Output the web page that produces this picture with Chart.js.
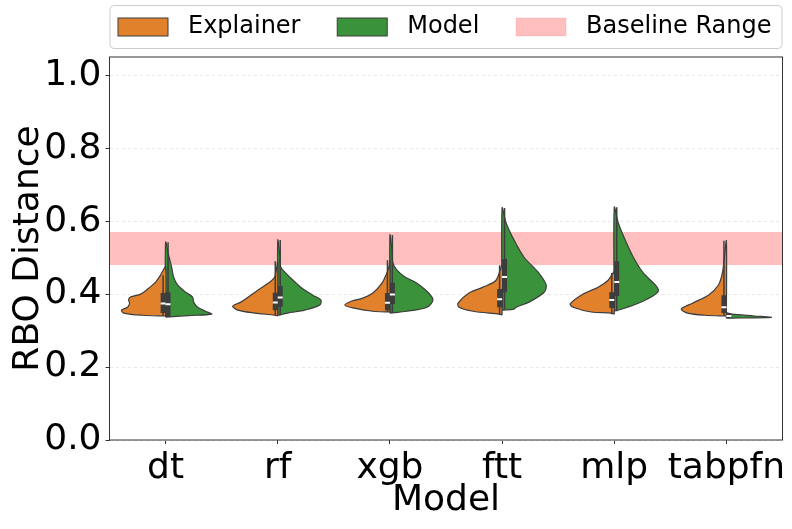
<!DOCTYPE html>
<html lang="en">
<head>
  <meta charset="UTF-8">
  <title>RBO Distance by Model</title>
  <script src="https://cdn.jsdelivr.net/npm/chart.js"></script>
  <style>
    body { margin: 0; background: #fff; }
    #wrap { width: 792px; height: 529px; }
  </style>
</head>
<body>
<div id="wrap"><canvas id="violin"></canvas></div>
<script>
  // categories and axis ticks
  const models = ['dt', 'rf', 'xgb', 'ftt', 'mlp', 'tabpfn'];
  const yTicks = [0.0, 0.2, 0.4, 0.6, 0.8, 1.0];
  const baselineRange = [0.48, 0.57];

  // half violin outlines: RBO level -> half width (category units)
  const explainerLevels = [
    [0.340, 0.342, 0.348, 0.356, 0.364, 0.375, 0.384, 0.392, 0.400, 0.416, 0.433, 0.452, 0.474],
    [0.340, 0.342, 0.348, 0.356, 0.367, 0.378, 0.397, 0.416, 0.433, 0.447, 0.471, 0.490],
    [0.351, 0.353, 0.362, 0.370, 0.381, 0.389, 0.403, 0.430, 0.458, 0.474, 0.493],
    [0.343, 0.345, 0.353, 0.364, 0.375, 0.403, 0.419, 0.438, 0.479],
    [0.345, 0.348, 0.351, 0.364, 0.373, 0.400, 0.419, 0.438, 0.460],
    [0.340, 0.342, 0.348, 0.359, 0.375, 0.397, 0.425, 0.458, 0.501, 0.546]
  ];
  const explainerWidths = [
    [0, 0.205, 0.375, 0.393, 0.339, 0.321, 0.330, 0.313, 0.223, 0.152, 0.089, 0.045, 0],
    [0, 0.027, 0.205, 0.357, 0.402, 0.330, 0.241, 0.152, 0.071, 0.027, 0.010, 0],
    [0, 0.152, 0.330, 0.402, 0.339, 0.241, 0.152, 0.071, 0.027, 0.009, 0],
    [0, 0.027, 0.259, 0.384, 0.393, 0.295, 0.170, 0.054, 0],
    [0, 0.027, 0.205, 0.366, 0.393, 0.277, 0.143, 0.054, 0],
    [0, 0.188, 0.348, 0.402, 0.304, 0.161, 0.071, 0.036, 0.018, 0]
  ];
  const modelLevels = [
    [0.337, 0.341, 0.345, 0.353, 0.364, 0.378, 0.392, 0.405, 0.425, 0.447, 0.474, 0.507, 0.542],
    [0.342, 0.348, 0.356, 0.370, 0.384, 0.397, 0.419, 0.444, 0.460, 0.474, 0.507, 0.548],
    [0.348, 0.353, 0.364, 0.384, 0.405, 0.430, 0.447, 0.466, 0.485, 0.521, 0.562],
    [0.356, 0.359, 0.364, 0.378, 0.405, 0.425, 0.460, 0.501, 0.548, 0.595, 0.636],
    [0.353, 0.362, 0.375, 0.392, 0.408, 0.425, 0.458, 0.501, 0.548, 0.595, 0.638],
    [0.334, 0.336, 0.340, 0.345, 0.348]
  ];
  const modelWidths = [
    [0, 0.200, 0.411, 0.357, 0.286, 0.250, 0.241, 0.179, 0.107, 0.071, 0.054, 0.027, 0],
    [0, 0.089, 0.241, 0.375, 0.384, 0.313, 0.205, 0.116, 0.063, 0.027, 0.018, 0],
    [0, 0.152, 0.330, 0.384, 0.339, 0.241, 0.134, 0.063, 0.027, 0.018, 0],
    [0, 0.107, 0.125, 0.241, 0.375, 0.393, 0.321, 0.196, 0.107, 0.036, 0],
    [0, 0.098, 0.214, 0.330, 0.393, 0.366, 0.259, 0.170, 0.098, 0.036, 0],
    [0, 0.400, 0.250, 0.050, 0]
  ];

  // inner boxes (whisker low/high, quartiles, median)
  const explainerLo  = [0.340, 0.342, 0.351, 0.345, 0.345, 0.340];
  const explainerQ1  = [0.348, 0.356, 0.356, 0.364, 0.362, 0.348];
  const explainerMed = [0.374, 0.377, 0.376, 0.386, 0.384, 0.364];
  const explainerQ3  = [0.403, 0.404, 0.403, 0.414, 0.405, 0.397];
  const explainerHi  = [0.452, 0.490, 0.493, 0.479, 0.458, 0.546];
  const modelLo  = [0.337, 0.342, 0.348, 0.359, 0.353, 0.334];
  const modelQ1  = [0.337, 0.365, 0.373, 0.405, 0.395, 0.337];
  const modelMed = [0.372, 0.391, 0.399, 0.447, 0.433, 0.340];
  const modelQ3  = [0.405, 0.422, 0.431, 0.496, 0.490, 0.348];
  const modelHi  = [0.542, 0.548, 0.562, 0.636, 0.638, 0.348];

  const orange = '#e1812c';
  const green = '#3a923a';
  const pink = 'rgba(255, 0, 0, 0.25)';
  const edge = '#3d3d3d';
  const boxOffset = 0.022;

  Chart.defaults.font.family = '"DejaVu Sans", sans-serif';
  Chart.defaults.color = '#000';

  function halfViolin(i, side, levels, widths, color) {
    const pts = levels.map((y, k) => ({ x: i + side * widths[k], y: y }));
    pts.push(pts[0]);
    return {
      data: pts, showLine: true, fill: 'shape', tension: 0.3,
      backgroundColor: color, borderColor: edge, borderWidth: 1.2,
      pointRadius: 0, order: 3
    };
  }

  function vLine(x, lo, hi, width, order) {
    return {
      data: [{ x: x, y: lo }, { x: x, y: hi }], showLine: true,
      borderColor: edge, borderWidth: width, borderCapStyle: 'butt',
      pointRadius: 0, order: order
    };
  }

  const datasets = [];

  // baseline band
  datasets.push({
    data: [{ x: -0.5, y: baselineRange[1] }, { x: 5.5, y: baselineRange[1] }],
    showLine: true, fill: { value: baselineRange[0] },
    backgroundColor: pink, borderWidth: 0, pointRadius: 0, order: 5
  });

  models.forEach((m, i) => {
    datasets.push(halfViolin(i, -1, explainerLevels[i], explainerWidths[i], orange));
    datasets.push(halfViolin(i, 1, modelLevels[i], modelWidths[i], green));
    datasets.push(vLine(i - boxOffset, explainerLo[i], explainerHi[i], 1.5, 2));
    datasets.push(vLine(i + boxOffset, modelLo[i], modelHi[i], 1.5, 2));
    datasets.push(vLine(i - boxOffset, explainerQ1[i], explainerQ3[i], 5, 1));
    datasets.push(vLine(i + boxOffset, modelQ1[i], modelQ3[i], 5, 1));
  });

  // medians as small white dashes
  [[explainerMed, -boxOffset], [modelMed, boxOffset]].forEach(([med, off]) => {
    datasets.push({
      data: med.map((v, i) => ({ x: i + off, y: v })),
      pointStyle: 'line', pointRadius: 2.5, pointBorderWidth: 2,
      pointBorderColor: '#fff', showLine: false, order: 0
    });
  });

  const legendItems = [
    { text: 'Explainer', fill: orange, stroke: edge },
    { text: 'Model', fill: green, stroke: edge },
    { text: 'Baseline Range', fill: pink, stroke: 'rgba(255, 0, 0, 0.1)' }
  ];

  // frame around the axes and the boxed legend on top
  const framePlugin = {
    id: 'frameAndLegend',
    afterDraw(chart) {
      const { ctx, chartArea: ca } = chart;
      ctx.save();
      ctx.strokeStyle = '#333';
      ctx.lineWidth = 1;
      ctx.strokeRect(ca.left, ca.top, ca.right - ca.left, ca.bottom - ca.top);

      // legend
      const top = 5, h = 43, left = ca.left, right = ca.right;
      ctx.beginPath();
      ctx.roundRect(left + 0.5, top + 0.5, right - left - 1, h, 4);
      ctx.fillStyle = 'rgba(255,255,255,0.8)';
      ctx.fill();
      ctx.strokeStyle = '#cccccc';
      ctx.stroke();

      ctx.font = '24px "DejaVu Sans"';
      const sw = 50, sh = 18, gap = 20;
      const widths = legendItems.map(it => sw + gap + ctx.measureText(it.text).width);
      const innerL = left + 8.5, innerR = right - 11;
      const space = (innerR - innerL - widths.reduce((a, b) => a + b, 0)) / (legendItems.length - 1);
      let x = innerL;
      const cy = top + h / 2 + 0.5;
      legendItems.forEach((it, k) => {
        ctx.fillStyle = it.fill;
        ctx.fillRect(x, cy - sh / 2, sw, sh);
        ctx.strokeStyle = it.stroke;
        ctx.lineWidth = 1;
        ctx.strokeRect(x, cy - sh / 2, sw, sh);
        ctx.fillStyle = '#000';
        ctx.textBaseline = 'middle';
        ctx.fillText(it.text, x + sw + gap, cy);
        x += widths[k] + space;
      });
      ctx.restore();
    }
  };

  new Chart(document.getElementById('violin'), {
    type: 'scatter',
    data: { datasets: datasets },
    plugins: [framePlugin],
    options: {
      responsive: true,
      maintainAspectRatio: false,
      animation: false,
      layout: { padding: { top: 57, right: 9.5, left: 0, bottom: 0 } },
      plugins: { legend: { display: false }, tooltip: { enabled: false } },
      scales: {
        x: {
          type: 'linear', min: -0.5, max: 5.5,
          afterBuildTicks: axis => { axis.ticks = models.map((m, i) => ({ value: i })); },
          afterFit: axis => { axis.height = 89; },
          ticks: { callback: v => models[v], font: { size: 36 }, padding: 3, maxRotation: 0, autoSkip: false },
          grid: { drawOnChartArea: false, tickColor: '#333', tickLength: 4 },
          border: { display: false },
          title: { display: true, text: 'Model', font: { size: 36 }, padding: { top: 0, bottom: 7 } }
        },
        y: {
          min: 0, max: 1.05,
          afterBuildTicks: axis => { axis.ticks = yTicks.map(v => ({ value: v })); },
          afterFit: axis => { axis.width = 109.5; },
          ticks: { callback: v => v.toFixed(1), font: { size: 36 }, padding: 4 },
          grid: { color: '#e8e8e8', tickColor: '#333', tickLength: 4 },
          border: { display: false, dash: [3, 3] },
          title: { display: true, text: 'RBO Distance', font: { size: 36 }, padding: { top: 7 } }
        }
      }
    }
  });
</script>
</body>
</html>
